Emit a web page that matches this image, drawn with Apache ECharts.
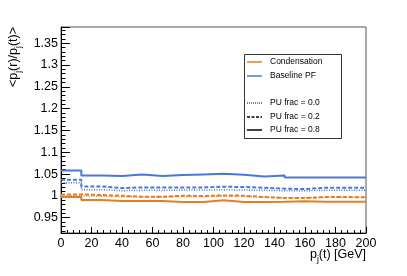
<!DOCTYPE html>
<html>
<head>
<meta charset="utf-8">
<script src="https://cdn.jsdelivr.net/npm/echarts@6/dist/echarts.min.js"></script>
<style>
html,body{margin:0;padding:0;background:#fff;}
#c{width:407px;height:276px;}
</style>
</head>
<body>
<div id="c"></div>
<script>
// Bin edges in p_j(t) [GeV] (15 bins, 0-200)
var binEdges = [0, 13.33, 26.67, 40, 53.33, 66.67, 80, 93.33, 106.67, 120, 133.33, 146.67, 160, 173.33, 186.67, 200];

// <p_j(r)/p_j(t)> per bin
var basePU08 = [1.0584, 1.0470, 1.0455, 1.0493, 1.0455, 1.0478, 1.0493, 1.0508, 1.0485, 1.0447, 1.0470, 1.0424, 1.0424, 1.0424, 1.0424];
var basePU02 = [1.0370, 1.0218, 1.0180, 1.0195, 1.0195, 1.0195, 1.0195, 1.0210, 1.0203, 1.0188, 1.0165, 1.0157, 1.0188, 1.0188, 1.0188];
var basePU00 = [1.0302, 1.0142, 1.0119, 1.0127, 1.0127, 1.0134, 1.0134, 1.0142, 1.0134, 1.0127, 1.0119, 1.0119, 1.0127, 1.0127, 1.0127];
var condPU02 = [1.0035, 1.0020, 1.0005, 0.9982, 0.9982, 1.0005, 0.9997, 1.0012, 1.0005, 0.9974, 0.9951, 0.9951, 0.9974, 0.9974, 0.9967];
var condPU00 = [1.0005, 0.9990, 0.9982, 0.9974, 0.9974, 0.9990, 0.9982, 0.9997, 0.9990, 0.9967, 0.9959, 0.9959, 0.9967, 0.9967, 0.9967];
var condPU08 = [0.9974, 0.9905, 0.9883, 0.9883, 0.9883, 0.9860, 0.9860, 0.9898, 0.9860, 0.9860, 0.9867, 0.9875, 0.9867, 0.9867, 0.9867];

var legendAlgos = ['Condensation', 'Baseline PF'];
var legendPU = ['PU frac = 0.0', 'PU frac = 0.2', 'PU frac = 0.8'];

var ORANGE = '#e27f22';
var BLUE = '#4a78d4';
var FONT = '"Liberation Sans", Arial, sans-serif';

function hist(vals) {
  return binEdges.map(function (x, i) { return [x, vals[Math.min(i, vals.length - 1)]]; });
}
function ser(vals, color, type, width, z) {
  var ls = { color: color, width: width, type: type };
  return { type: 'line', step: 'end', symbol: 'none', data: hist(vals), lineStyle: ls, z: z, animation: false, silent: true };
}

var dashed = [4, 2];
var dotted = [1, 1.5];

var chart = echarts.init(document.getElementById('c'), null, { renderer: 'canvas' });
var legendX = 244, legendY = 54;
var entryY = [62, 76, 103, 117, 130];
var graphics = [
  { type: 'rect', shape: { x: legendX + 0.5, y: legendY + 0.5, width: 97, height: 84 }, style: { fill: '#fff', stroke: '#333', lineWidth: 1 }, z: 50 },
  { type: 'line', shape: { x1: 247, y1: entryY[0], x2: 262, y2: entryY[0] }, style: { stroke: ORANGE, lineWidth: 1.5 }, z: 51 },
  { type: 'line', shape: { x1: 247, y1: entryY[1], x2: 262, y2: entryY[1] }, style: { stroke: BLUE, lineWidth: 1.5 }, z: 51 },
  { type: 'line', shape: { x1: 247, y1: entryY[2], x2: 262, y2: entryY[2] }, style: { stroke: '#000', lineWidth: 1, lineDash: [1, 1] }, z: 51 },
  { type: 'line', shape: { x1: 247, y1: entryY[3], x2: 262, y2: entryY[3] }, style: { stroke: '#000', lineWidth: 1.5, lineDash: [3, 1.5] }, z: 51 },
  { type: 'line', shape: { x1: 247, y1: entryY[4], x2: 262, y2: entryY[4] }, style: { stroke: '#000', lineWidth: 1.5 }, z: 51 },
  // axis titles
  { type: 'text', x: 366, y: 255, z: 51, style: { text: 'p{sub|j}(t) [GeV]', align: 'right', verticalAlign: 'middle', font: '12.5px ' + FONT, fill: '#000',
      rich: { sub: { fontSize: 8.5, fontFamily: FONT, padding: [9, 0, 0, 0] } } } },
  { type: 'text', x: 14, y: 27, rotation: Math.PI / 2, z: 51, style: { text: '<p{sub|j}(r)/p{sub|j}(t)>', align: 'right', verticalAlign: 'middle', font: '12.5px ' + FONT, fill: '#000',
      rich: { sub: { fontSize: 8.5, fontFamily: FONT, padding: [9, 0, 0, 0] } } } }
];
var allLegend = legendAlgos.concat(['']).concat(legendPU);
[0, 1, 2, 3, 4].forEach(function (k, i) {
  var txt = i < 2 ? legendAlgos[i] : legendPU[i - 2];
  graphics.push({ type: 'text', x: 270, y: entryY[i], z: 51, style: { text: txt, align: 'left', verticalAlign: 'middle', font: '8.5px ' + FONT, fill: '#000' } });
});

function isMajor(v) { return Math.abs(v / 0.05 - Math.round(v / 0.05)) < 1e-6; }

chart.setOption({
  animation: false,
  backgroundColor: '#fff',
  grid: { left: 61, right: 41, top: 27, bottom: 43, show: true, borderColor: '#555', borderWidth: 1, backgroundColor: 'transparent' },
  xAxis: {
    type: 'value', min: 0, max: 200, interval: 20,
    axisLine: { show: true, lineStyle: { color: '#000', width: 1 } },
    axisTick: { show: true, inside: true, length: 6, lineStyle: { color: '#000' } },
    minorTick: { show: true, splitNumber: 5, length: 3, lineStyle: { color: '#000' } },
    axisLabel: { color: '#000', fontSize: 12.5, fontFamily: FONT, margin: 4 },
    splitLine: { show: false }
  },
  yAxis: {
    type: 'value', min: 0.915, max: 1.387, minInterval: 0.05, maxInterval: 0.05, splitNumber: 9,
    axisLine: { show: true, lineStyle: { color: '#000', width: 1 } },
    axisTick: { show: true, inside: true, length: 9, lineStyle: { color: '#000' } },
    minorTick: { show: true, splitNumber: 5, length: 4.5, lineStyle: { color: '#000' } },
    axisLabel: { color: '#000', fontSize: 12.5, fontFamily: FONT, margin: 3, showMinLabel: false, showMaxLabel: false,
      formatter: function (v) { return isMajor(v) ? String(+v.toFixed(2)) : ''; } },
    splitLine: { show: false }
  },
  graphic: graphics,
  series: [
    ser(condPU00, ORANGE, dotted, 1.5, 2),
    ser(condPU02, ORANGE, dashed, 2, 3),
    ser(condPU08, ORANGE, 'solid', 2, 4),
    ser(basePU00, BLUE, dotted, 1.5, 5),
    ser(basePU02, BLUE, dashed, 2, 6),
    ser(basePU08, BLUE, 'solid', 2, 7)
  ]
});
</script>
</body>
</html>
